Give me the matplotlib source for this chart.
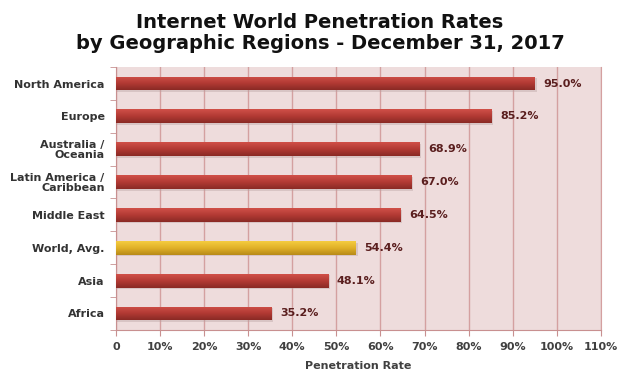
import numpy as np
import matplotlib.pyplot as plt
from matplotlib.colors import LinearSegmentedColormap

# Datos del gráfico
regions = ['North America', 'Europe', 'Australia /\nOceania', 'Latin America /\nCaribbean',
           'Middle East', 'World, Avg.', 'Asia', 'Africa']
rates = [95.0, 85.2, 68.9, 67.0, 64.5, 54.4, 48.1, 35.2]
highlight = 'World, Avg.'
xticks = [0, 10, 20, 30, 40, 50, 60, 70, 80, 90, 100, 110]
xticklabels = ['0'] + ['%d%%' % v for v in xticks[1:]]

fig = plt.figure(figsize=(6.4, 3.77), dpi=100)
ax = fig.add_axes([0.181, 0.125, 0.758, 0.697])
ax.set_facecolor('#eedcdc')

red_cmap = LinearSegmentedColormap.from_list('r', ['#8a2a25', '#b23a34', '#d05048'])
yel_cmap = LinearSegmentedColormap.from_list('y', ['#b88a18', '#e0b028', '#f5cc40'])

y = np.arange(len(regions))[::-1]
bar_h = 0.42
grad = np.linspace(0, 1, 50).reshape(-1, 1)

for yi, name, val in zip(y, regions, rates):
    cmap = yel_cmap if name == highlight else red_cmap
    # sombra
    ax.barh(yi - 0.05, val + 0.4, height=bar_h, color='#b8a0a0', alpha=0.4, zorder=2)
    bar = ax.barh(yi, val, height=bar_h, color='none', zorder=3)[0]
    im = ax.imshow(grad, cmap=cmap, aspect='auto', origin='lower',
                   extent=[0, val, yi - bar_h / 2, yi + bar_h / 2], zorder=3)
    im.set_clip_path(bar)
    ax.text(val + 2.0, yi, '%.1f%%' % val, va='center', ha='left',
            fontsize=8, fontweight='bold', color='#5a1e1e', zorder=4)

ax.set_xlim(0, 110)
ax.set_ylim(-0.5, len(regions) - 0.5)
ax.set_xticks(xticks)
ax.set_xticklabels(xticklabels, fontsize=8, fontweight='bold', color='#404040')
ax.set_yticks(y)
ax.set_yticklabels(regions, fontsize=8, fontweight='bold', color='#333333', linespacing=1.0)
ax.set_yticks(np.arange(len(regions) + 1) - 0.5, minor=True)
ax.tick_params(axis='y', which='major', length=0, pad=8)
ax.tick_params(axis='y', which='minor', length=4, color='#c89090')
ax.tick_params(axis='x', length=4, color='#c89090', pad=5)

ax.grid(axis='x', color='#d4a0a0', linewidth=1.0, zorder=1)
ax.set_axisbelow(True)
ax.spines['top'].set_visible(False)
ax.spines['right'].set_color('#d4a0a0')
ax.spines['left'].set_color('#c89090')
ax.spines['bottom'].set_color('#c89090')

ax.set_xlabel('Penetration Rate', fontsize=8, fontweight='bold', color='#404040', labelpad=6)

fig.text(0.5, 0.965, 'Internet World Penetration Rates\nby Geographic Regions - December 31, 2017',
         ha='center', va='top', fontsize=14, fontweight='bold', color='#111111', linespacing=1.15)

fig.savefig('out.png', dpi=100)
